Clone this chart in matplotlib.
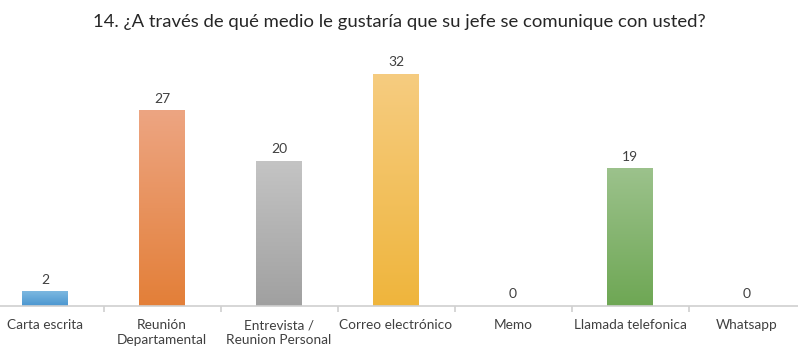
import matplotlib
matplotlib.use("Agg")
import matplotlib.pyplot as plt
import numpy as np
from matplotlib.colors import LinearSegmentedColormap

plt.rcParams['font.family'] = ['Lato', 'DejaVu Sans']

title = "14. ¿A través de qué medio le gustaría que su jefe se comunique con usted?"
categories = ["Carta escrita", "Reunión\nDepartamental", "Entrevista /\nReunion Personal",
              "Correo electrónico", "Memo", "Llamada telefonica", "Whatsapp"]
values = [2, 27, 20, 32, 0, 19, 0]
# (top colour, bottom colour) for each bar's vertical gradient
bar_colors = [("#7db8e0", "#4a96d0"),
              ("#eda582", "#e37f38"),
              ("#c4c4c4", "#a0a0a0"),
              ("#f6cc80", "#efb53c"),
              ("#cccccc", "#aaaaaa"),
              ("#9cc28c", "#6ea754"),
              ("#cccccc", "#aaaaaa")]

W, H = 798, 351
fig = plt.figure(figsize=(W / 100, H / 100), dpi=100)
base_px = 305.7
ax = fig.add_axes([0, (H - base_px) / H, 1, (base_px - 52) / H])

step_px = 117.0
first_center_px = 45.0
x = np.arange(len(categories))
ax.set_xlim(-first_center_px / step_px, (W - first_center_px) / step_px)
ax.set_ylim(0, 35)

bar_w = 46 / step_px
grad = np.linspace(1, 0, 256).reshape(-1, 1)
bars = ax.bar(x, values, width=bar_w, color="none", edgecolor="none")
for rect, (top, bot), v in zip(bars, bar_colors, values):
    if v > 0:
        cmap = LinearSegmentedColormap.from_list("g", [bot, top])
        x0 = rect.get_x()
        im = ax.imshow(grad, cmap=cmap, aspect="auto", origin="upper",
                       extent=[x0, x0 + rect.get_width(), 0, rect.get_height()],
                       zorder=2)
        im.set_clip_path(rect)
    ax.text(rect.get_x() + rect.get_width() / 2, v + 0.75, f"{v}",
            ha="center", va="bottom", fontsize=10, color="#404040")
ax.set_xlim(-first_center_px / step_px, (W - first_center_px) / step_px)
ax.set_ylim(0, 35)

for s in ["top", "right", "left"]:
    ax.spines[s].set_visible(False)
ax.spines["bottom"].set_color("#d0d0d0")
ax.spines["bottom"].set_linewidth(1.2)
ax.set_yticks([])
ax.set_xticks(np.arange(len(categories) - 1) + 0.5)
ax.set_xticklabels([])
ax.tick_params(axis="x", length=4, color="#d0d0d0", width=1.2)
for xi, lab in zip(x, categories):
    ax.text(xi, -1.85, lab, ha="center", va="top", fontsize=9.8, color="#404040",
            linespacing=1.3)

fig.text(0.5, 1 - 22 / H, title, ha="center", va="center", fontsize=13.3, color="#262626")

fig.savefig("out.png", dpi=100)
